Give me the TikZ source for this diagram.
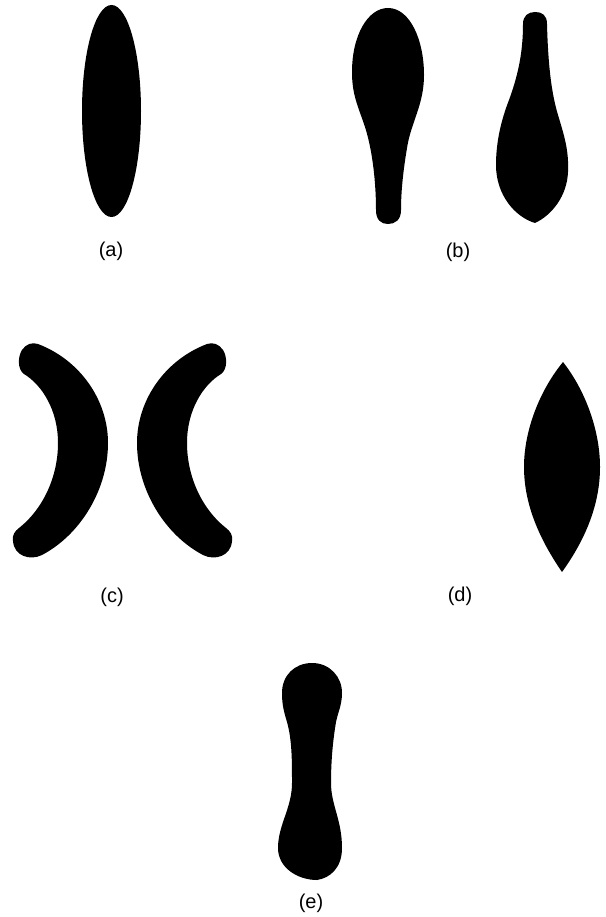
\documentclass[tikz,border=0pt]{standalone}
\usepackage{fontspec}
\setmainfont{Liberation Sans}
\usetikzlibrary{positioning}
\tikzset{
  blob/.style={fill=black,draw=none},
  caption/.style={font=\fontsize{20}{24}\selectfont,inner sep=0pt},
  crescent/.pic={
    \fill[blob] (38,344) .. controls (80,360) and (108,400) .. (108,443)
      .. controls (108,490) and (80,535) .. (42,555)
      .. controls (30,561) and (14,556) .. (13,541)
      .. controls (12,535) and (15,531) .. (19,528)
      .. controls (42,510) and (58,478) .. (58,443)
      .. controls (58,410) and (42,385) .. (24,374)
      .. controls (17,369) and (18,356) .. (22,350)
      .. controls (26,344) and (32,342) .. (38,344) -- cycle;
  }
}

\begin{document}
\begin{tikzpicture}[x=1pt,y=-1pt]
\useasboundingbox (0,0) rectangle (605,917);
% (a)
\fill[blob] (111.5,111) ellipse [x radius=29.5, y radius=106];
\node[caption] (labA) at (111,251) {(a)};
% (b)
\fill[blob] (388,8) .. controls (410,8) and (424,40) .. (424,75)
  .. controls (424,105) and (411,122) .. (407,148)
  .. controls (403,172) and (401,192) .. (401,210)
  .. controls (401,220) and (395,224) .. (388,224)
  .. controls (381,224) and (376,220) .. (376,210)
  .. controls (376,185) and (373,152) .. (365,127)
  .. controls (358,106) and (352,95) .. (352,72)
  .. controls (352,35) and (368,8) .. (388,8) -- cycle;
\fill[blob] (535,12) .. controls (542,12) and (547,15) .. (547,24)
  .. controls (548,62) and (551,92) .. (558,115)
  .. controls (564,135) and (569,150) .. (568,172)
  .. controls (567,196) and (552,215) .. (535,223)
  .. controls (515,217) and (496,195) .. (496,165)
  .. controls (496,140) and (502,118) .. (509,100)
  .. controls (517,78) and (523,55) .. (523,24)
  .. controls (523,16) and (528,12) .. (535,12) -- cycle;
\node[caption] (labB) at (458,252) {(b)};
% (c)
\pic at (0,0) {crescent};
\pic[xscale=-1] at (245,0) {crescent};
\node[caption] (labC) at (112,597) {(c)};
% (d)
\fill[blob] (563,362) .. controls (585,390) and (600,430) .. (600,467)
  .. controls (600,505) and (585,540) .. (562,572)
  .. controls (540,540) and (524,505) .. (524,467)
  .. controls (524,430) and (540,390) .. (563,362) -- cycle;
\node[caption] (labD) at (460,596) {(d)};
% (e)
\fill[blob] (312,663) .. controls (330,663) and (342,677) .. (342,693)
  .. controls (342,705) and (338,712) .. (336,722)
  .. controls (333,740) and (331,760) .. (331,783)
  .. controls (331,805) and (342,820) .. (342,848)
  .. controls (342,868) and (330,878) .. (317,880)
  .. controls (298,880) and (278,868) .. (278,848)
  .. controls (278,825) and (292,808) .. (292,783)
  .. controls (292,760) and (292,740) .. (287,722)
  .. controls (284,712) and (282,705) .. (282,693)
  .. controls (282,675) and (295,663) .. (312,663) -- cycle;
\node[caption] (labE) at (311,903) {(e)};
\end{tikzpicture}
\end{document}
